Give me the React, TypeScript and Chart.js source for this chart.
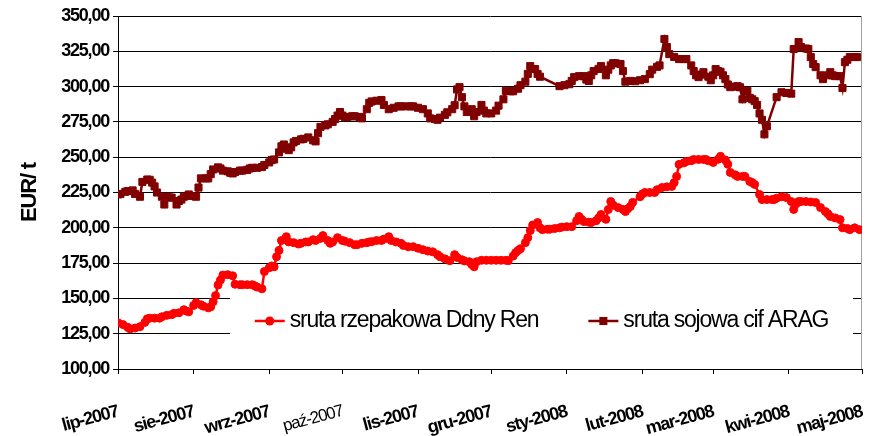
import React, { useEffect, useRef } from 'react';
import { Chart, registerables } from 'chart.js';

Chart.register(...registerables);

// x axis: days counted from 1 July 2007
const monthDays = [0, 31, 62, 92, 123, 153, 184, 215, 244, 275, 305];
const monthLabels = ['lip-2007', 'sie-2007', 'wrz-2007', 'paź-2007', 'lis-2007', 'gru-2007', 'sty-2008', 'lut-2008', 'mar-2008', 'kwi-2008', 'maj-2008'];

const yMin = 100;
const yMax = 350;
const yStep = 25;

const rapeLabel = 'sruta rzepakowa Ddny Ren';
const soyLabel = 'sruta sojowa cif ARAG';

const rapeDays = [
  0, 2, 4, 5, 7, 9, 11, 12, 13, 15,
  17, 18, 20, 22, 23, 25, 27, 28, 29, 31,
  32, 34, 35, 37, 38, 39, 40, 41, 42, 43,
  45, 47, 48, 50, 51, 53, 55, 56, 57, 59,
  60, 62, 63, 64, 65, 66, 67, 69, 70, 72,
  74, 75, 77, 78, 80, 81, 83, 84, 86, 87,
  88, 90, 92, 93, 95, 97, 98, 100, 102, 103,
  104, 106, 108, 109, 111, 112, 114, 116, 117, 119,
  121, 123, 125, 127, 129, 131, 132, 134, 136, 138,
  139, 141, 142, 144, 145, 146, 147, 149, 151, 153,
  155, 157, 159, 160, 162, 163, 164, 165, 167, 168,
  169, 170, 172, 173, 174, 176, 177, 179, 181, 182,
  184, 186, 188, 189, 190, 191, 193, 194, 196, 197,
  198, 200, 201, 202, 203, 205, 207, 208, 209, 210,
  211, 214, 215, 216, 218, 220, 221, 223, 225, 227,
  228, 229, 230, 232, 233, 235, 236, 238, 240, 241,
  242, 244, 246, 247, 249, 250, 251, 253, 254, 256,
  257, 259, 260, 261, 263, 264, 266, 268, 269, 270,
  272, 274, 276, 277, 278, 279, 280, 282, 284, 286,
  288, 290, 291, 292, 294, 296, 297, 299, 300, 302,
  304,
];
const rapeValues = [
  132.7, 131.5, 129.5, 128.4, 129, 130, 133, 135.5, 136, 136,
  136, 137, 138, 138.5, 139.5, 139.8, 142, 141, 140.5, 145,
  147, 145.5, 144.5, 143.3, 144, 147.6, 152, 159.5, 163, 166.5,
  166.8, 166, 160, 159.7, 159.7, 159.7, 159.7, 159, 158, 156.8,
  169, 171.7, 173, 172.4, 179.5, 184, 191, 193.7, 190, 189.5,
  188.5, 189, 190, 190, 191.6, 191, 192.5, 194.5, 191, 189,
  190, 193, 191, 190.5, 189.5, 188, 188, 189, 189.5, 190,
  190.2, 191, 191, 192, 193.7, 191, 190, 189, 187.5, 186.6,
  186.6, 185.5, 184.5, 183.5, 183, 181, 179.5, 178, 176.7, 181,
  179, 177.4, 176.5, 176, 174, 172.4, 176, 177, 177, 177,
  177, 177, 177, 176.7, 180, 182.4, 184, 185.2, 189.5, 193,
  198, 202, 203.7, 200, 198.7, 199, 199, 199.5, 200, 200.5,
  200.8, 200.8, 205, 208, 206, 204.4, 204, 203.7, 205, 207,
  209.4, 206, 213, 218.6, 216, 214.3, 213, 211.5, 213.5, 215,
  218, 222, 224, 225, 225, 225, 227, 228.5, 229, 229.3,
  232, 236.4, 244.9, 246, 247, 247.5, 248.4, 248.4, 248.4, 248.4,
  247.5, 246.3, 248.5, 250.6, 248, 245, 239.2, 237.5, 236.4, 236.4,
  236.4, 232.8, 232, 230.7, 223.6, 220, 220, 220, 220, 221,
  222, 221.4, 218.6, 213, 217, 218.6, 218.6, 218.6, 218.3, 217.9,
  214.3, 211.5, 210, 208, 207, 205.8, 200, 199.5, 198.7, 200,
  198.7,
];

const soyDays = [
  0, 1, 3, 4, 6, 7, 9, 10, 12, 13,
  14, 15, 16, 18, 19, 20, 21, 22, 24, 25,
  26, 27, 29, 30, 32, 33, 34, 36, 37, 38,
  39, 41, 42, 43, 45, 46, 47, 48, 50, 51,
  53, 54, 55, 57, 59, 60, 62, 63, 64, 66,
  67, 68, 69, 70, 71, 72, 73, 75, 76, 78,
  80, 81, 82, 83, 85, 86, 88, 89, 90, 91,
  92, 93, 94, 96, 97, 99, 100, 102, 103, 104,
  106, 108, 109, 111, 113, 115, 116, 118, 120, 121,
  123, 125, 127, 128, 130, 131, 132, 134, 135, 137,
  138, 139, 140, 141, 142, 143, 144, 145, 146, 147,
  149, 150, 151, 153, 155, 156, 158, 159, 161, 162,
  164, 165, 167, 168, 169, 171, 172, 173, 181, 183,
  185, 186, 187, 189, 191, 192, 193, 194, 195, 197,
  198, 200, 201, 202, 203, 204, 206, 207, 208, 210,
  212, 214, 216, 218, 219, 221, 222, 224, 225, 226,
  228, 230, 232, 233, 235, 236, 237, 238, 239, 240,
  242, 243, 244, 245, 246, 247, 248, 249, 250, 251,
  253, 254, 255, 256, 257, 258, 259, 260, 261, 262,
  263, 264, 265, 266, 270, 272, 274, 276, 277, 279,
  280, 282, 283, 284, 285, 286, 288, 289, 291, 292,
  293, 294, 296, 297, 298, 299, 300, 302, 303,
];
const soyValues = [
  223.6, 224, 225.5, 226, 226.5, 224, 222, 232.5, 234.2, 234,
  232, 229.3, 225, 222, 216.5, 222, 221.5, 221.4, 216.5, 219,
  220, 222, 223.6, 222.5, 222, 228.5, 235, 235, 235, 238,
  241.3, 242.8, 242, 240.5, 240, 239, 238.5, 239.5, 240.5, 240.5,
  241, 242, 242.5, 242.5, 243, 244.5, 246.3, 248, 248.4, 253.4,
  257.7, 259, 256, 255, 257, 260.5, 261.5, 262.6, 263, 264,
  262, 261.2, 267, 271.5, 272.5, 273.3, 275, 277, 279.5, 282,
  279.5, 278.3, 278.5, 279, 279, 278.5, 277.5, 284, 288.5, 289.5,
  290, 290.5, 287, 284, 285, 286, 286, 286, 286, 286,
  285, 284, 281, 277.5, 277, 276.5, 278, 280, 281.8, 284,
  286.8, 298, 299.6, 292.5, 286, 282, 283, 284, 279, 282,
  287, 283, 281, 281, 283, 286.5, 291, 297, 296.7, 296.7,
  298.5, 301, 303.5, 309, 314.5, 312.4, 309, 307, 300.3, 301,
  301.7, 304, 306.7, 307.4, 307.4, 305, 304, 308, 311, 312.5,
  314.5, 308, 312, 315, 316.6, 316.5, 316, 311, 303.5, 304,
  303.8, 304.5, 305.3, 308.8, 312, 314, 315, 333.7, 328, 323,
  321, 319.5, 319.5, 319.5, 315, 311, 308, 306.7, 308.5, 310.2,
  307, 304.5, 308, 312.4, 311, 310.5, 308, 305.3, 301.5, 299.6,
  300, 300.3, 299.5, 291, 297, 297, 292, 291, 289.7, 287,
  281, 276.5, 266.2, 271.9, 292.5, 296, 295.5, 295, 326.6, 331.5,
  328, 327, 326.6, 320.9, 316, 313.8, 308, 305.3, 308, 310.2,
  308, 307.4, 307.4, 299, 317.3, 319, 320.9, 321, 320.9,
];

const RED = '#FF0000';
const DARK = '#800000';
const FONT = "'Liberation Sans', Arial, sans-serif";
const TIGHT = '-1.2px';

const plotDecor = {
  id: 'plotDecor',
  beforeLayout(chart: any) {
    chart.ctx.letterSpacing = TIGHT;
  },
  beforeDraw(chart: any) {
    chart.ctx.letterSpacing = TIGHT;
  },
  beforeDatasetsDraw(chart: any) {
    const { ctx, chartArea: a } = chart;
    ctx.save();
    ctx.fillStyle = '#ffffff';
    ctx.fillRect(a.left + 112, a.bottom - 86, a.right - 9 - (a.left + 112), 78);
    ctx.strokeStyle = '#a0a0a0';
    ctx.lineWidth = 1;
    ctx.beginPath();
    ctx.moveTo(a.right - 0.5, a.top);
    ctx.lineTo(a.right - 0.5, a.bottom);
    ctx.stroke();
    ctx.restore();
  },
  afterDraw(chart: any) {
    const { ctx, chartArea: a } = chart;
    const boxL = a.left + 112;
    const boxR = a.right - 9;
    const cy = a.bottom - 48;
    const lineLen = 30;
    const gapText = 5;
    const gapItem = 50;
    ctx.save();
    ctx.letterSpacing = TIGHT;
    ctx.font = `23px ${FONT}`;
    ctx.textBaseline = 'middle';
    ctx.textAlign = 'left';
    const items = chart.data.datasets.map((ds: any) => ({ ds, w: ctx.measureText(ds.label).width }));
    const total = items.reduce((s: number, it: any) => s + lineLen + gapText + it.w, 0) + gapItem * (items.length - 1);
    let x = (boxL + boxR) / 2 - total / 2;
    for (const it of items) {
      const ds = it.ds;
      ctx.strokeStyle = ds.borderColor;
      ctx.lineWidth = ds.borderWidth;
      ctx.beginPath();
      ctx.moveTo(x, cy);
      ctx.lineTo(x + lineLen, cy);
      ctx.stroke();
      const mx = x + lineLen / 2;
      ctx.fillStyle = ds.pointBackgroundColor;
      if (ds.pointStyle === 'rect') {
        const s = ds.pointRadius * Math.SQRT1_2 + 0.5;
        ctx.fillRect(mx - s, cy - s, 2 * s, 2 * s);
      } else {
        ctx.beginPath();
        ctx.arc(mx, cy, ds.pointRadius + 0.5, 0, Math.PI * 2);
        ctx.fill();
      }
      ctx.fillStyle = '#000';
      ctx.fillText(ds.label, x + lineLen + gapText, cy);
      x += lineLen + gapText + it.w + gapItem;
    }
    ctx.restore();
  },
};

export default function App() {
  const ref = useRef<HTMLCanvasElement>(null);
  useEffect(() => {
    if (!ref.current) return;
    const chart = new Chart(ref.current, {
      type: 'line',
      data: {
        datasets: [
          {
            label: rapeLabel,
            data: rapeDays.map((d, i) => ({ x: d, y: rapeValues[i] })),
            borderColor: RED,
            backgroundColor: RED,
            borderWidth: 2.5,
            pointStyle: 'circle',
            pointRadius: 4,
            pointBorderWidth: 1,
            pointBackgroundColor: RED,
            pointBorderColor: RED,
            tension: 0,
          },
          {
            label: soyLabel,
            data: soyDays.map((d, i) => ({ x: d, y: soyValues[i] })),
            borderColor: DARK,
            backgroundColor: DARK,
            borderWidth: 2.5,
            pointStyle: 'rect',
            pointRadius: 5,
            pointBorderWidth: 1,
            pointBackgroundColor: DARK,
            pointBorderColor: DARK,
            tension: 0,
          },
        ],
      },
      options: {
        animation: false,
        responsive: true,
        maintainAspectRatio: false,
        devicePixelRatio: 1,
        layout: { padding: { top: 16, right: 15, left: 0, bottom: 0 } },
        plugins: { legend: { display: false }, tooltip: { enabled: false } },
        scales: {
          x: {
            type: 'linear',
            min: monthDays[0],
            max: monthDays[monthDays.length - 1],
            afterBuildTicks: (s: any) => {
              s.ticks = monthDays.map((v) => ({ value: v }));
            },
            afterFit: (s: any) => {
              s.height = 67;
              s.paddingLeft = 0;
              s.paddingRight = 0;
            },
            grid: { drawOnChartArea: false, drawTicks: true, tickLength: 5, color: '#000' },
            border: { color: '#000', width: 1 },
            ticks: {
              autoSkip: false,
              minRotation: 15,
              maxRotation: 15,
              padding: 27,
              color: '#000',
              font: (c: any) =>
                c.index === 3
                  ? { family: FONT, size: 17, weight: 'normal' }
                  : { family: FONT, size: 18, weight: 'bold' },
              callback: (_v: any, i: number) => monthLabels[i],
            },
          },
          y: {
            min: yMin,
            max: yMax,
            afterFit: (s: any) => {
              s.width = 118;
            },
            grid: { color: '#000', tickLength: 5, lineWidth: 1 },
            border: { color: '#000', width: 1 },
            ticks: {
              stepSize: yStep,
              padding: 4,
              color: '#000',
              font: { family: FONT, size: 18, weight: 'bold' },
              callback: (v: any) => Number(v).toFixed(2).replace('.', ','),
            },
            title: {
              display: true,
              text: 'EUR/ t',
              color: '#000',
              font: { family: FONT, size: 22, weight: 'bold' },
              padding: { top: 17, bottom: 0 },
            },
          },
        },
      },
      plugins: [plotDecor],
    } as any);
    return () => chart.destroy();
  }, []);

  return (
    <div style={{ position: 'absolute', left: 0, top: 0, width: 877, height: 436, background: '#fff' }}>
      <canvas ref={ref} />
    </div>
  );
}
